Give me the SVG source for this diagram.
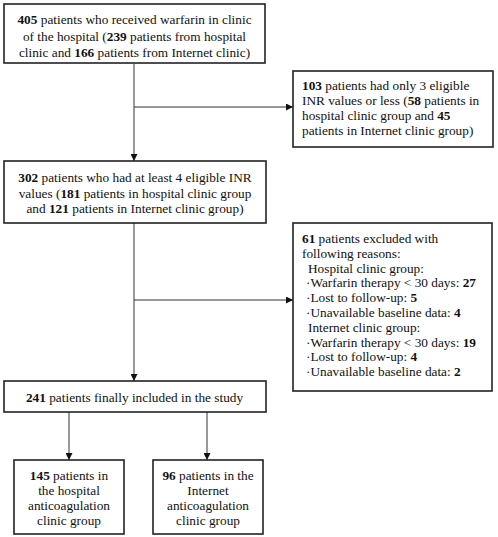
<svg xmlns="http://www.w3.org/2000/svg" width="498" height="537" viewBox="0 0 498 537">
<defs>
<marker id="ah" viewBox="0 0 10 10" refX="10" refY="5" markerWidth="7" markerHeight="7" markerUnits="userSpaceOnUse" orient="auto">
<path d="M0,0 L10,5 L0,10 z" fill="#111"/>
</marker>
<style>
.box{fill:#fff;stroke:#222;stroke-width:1.6}
.ln{fill:none;stroke:#333;stroke-width:1}
text{font-family:"Liberation Serif","Times New Roman",serif;font-size:13.3px;fill:#111}
.c{text-anchor:middle}
.b{font-weight:bold}
</style>
</defs>
<rect width="498" height="537" fill="#fff"/>
<g id="connectors">
<line class="ln" x1="134" y1="64" x2="134" y2="161" marker-end="url(#ah)"/>
<line class="ln" x1="134" y1="107" x2="293" y2="107" marker-end="url(#ah)"/>
<line class="ln" x1="134" y1="223" x2="134" y2="381" marker-end="url(#ah)"/>
<line class="ln" x1="134" y1="300" x2="293" y2="300" marker-end="url(#ah)"/>
<line class="ln" x1="69" y1="412" x2="69" y2="460" marker-end="url(#ah)"/>
<line class="ln" x1="207" y1="412" x2="207" y2="460" marker-end="url(#ah)"/>
</g>
<g id="n1">
<rect class="box" x="4" y="4" width="261" height="59"/>
<text class="c" x="134.5" y="24"><tspan class="b">405</tspan> patients who received warfarin in clinic</text>
<text class="c" x="134.5" y="40.5">of the hospital (<tspan class="b">239</tspan> patients from hospital</text>
<text class="c" x="134.5" y="57">clinic and <tspan class="b">166</tspan> patients from Internet clinic)</text>
</g>
<g id="n2">
<rect class="box" x="293" y="71" width="200" height="76"/>
<text x="302" y="90"><tspan class="b">103</tspan> patients had only 3 eligible</text>
<text x="302" y="105">INR values or less (<tspan class="b">58</tspan> patients in</text>
<text x="302" y="120">hospital clinic group and <tspan class="b">45</tspan></text>
<text x="302" y="135">patients in Internet clinic group)</text>
</g>
<g id="n3">
<rect class="box" x="4" y="161" width="262" height="62"/>
<text class="c" x="135" y="182"><tspan class="b">302</tspan> patients who had at least 4 eligible INR</text>
<text class="c" x="135" y="197.5">values (<tspan class="b">181</tspan> patients in hospital clinic group</text>
<text class="c" x="135" y="213">and <tspan class="b">121</tspan> patients in Internet clinic group)</text>
</g>
<g id="n4">
<rect class="box" x="293" y="223" width="199" height="168"/>
<text x="302" y="243"><tspan class="b">61</tspan> patients excluded with</text>
<text x="302" y="257.8">following reasons:</text>
<text x="308" y="272.6">Hospital clinic group:</text>
<text x="306" y="287.4">·Warfarin therapy &lt; 30 days: <tspan class="b">27</tspan></text>
<text x="306" y="302.2">·Lost to follow-up: <tspan class="b">5</tspan></text>
<text x="306" y="317">·Unavailable baseline data: <tspan class="b">4</tspan></text>
<text x="308" y="331.8">Internet clinic group:</text>
<text x="306" y="346.6">·Warfarin therapy &lt; 30 days: <tspan class="b">19</tspan></text>
<text x="306" y="361.4">·Lost to follow-up: <tspan class="b">4</tspan></text>
<text x="306" y="376.2">·Unavailable baseline data: <tspan class="b">2</tspan></text>
</g>
<g id="n5">
<rect class="box" x="4" y="381" width="262" height="31"/>
<text class="c" x="134.5" y="401.5"><tspan class="b">241</tspan> patients finally included in the study</text>
</g>
<g id="n6">
<rect class="box" x="14" y="460" width="110" height="74"/>
<text class="c" x="69" y="480"><tspan class="b">145</tspan> patients in</text>
<text class="c" x="69" y="495">the hospital</text>
<text class="c" x="69" y="510">anticoagulation</text>
<text class="c" x="69" y="525">clinic group</text>
</g>
<g id="n7">
<rect class="box" x="153" y="460" width="110" height="74"/>
<text class="c" x="208" y="480"><tspan class="b">96</tspan> patients in the</text>
<text class="c" x="208" y="495">Internet</text>
<text class="c" x="208" y="510">anticoagulation</text>
<text class="c" x="208" y="525">clinic group</text>
</g>
</svg>
